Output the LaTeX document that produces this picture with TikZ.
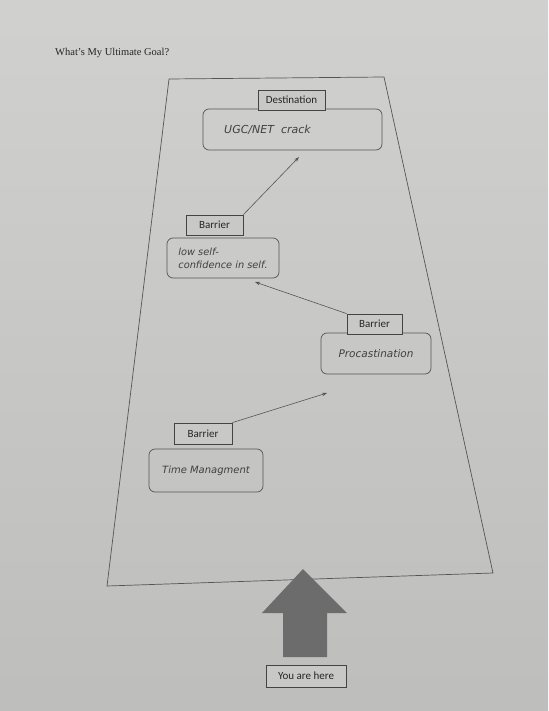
\documentclass[tikz,border=0pt]{standalone}
\usepackage{fontspec}
\setmainfont{Liberation Serif}
\newfontfamily\boxfont{Carlito}
\newfontfamily\handfont{DejaVu Sans}
\usetikzlibrary{arrows.meta}
\definecolor{paper}{RGB}{206,206,204}
\definecolor{ink}{RGB}{85,85,85}
\definecolor{bigarrow}{RGB}{108,108,108}
\begin{document}
\begin{tikzpicture}[x=1pt,y=-1pt,
  labelbox/.style={draw=ink!80!black,line width=0.8pt,fill=paper!97!black,inner sep=0pt,font=\boxfont\fontsize{11}{12}\selectfont,text=black!85},
  goalbox/.style={draw=ink,line width=0.7pt,rounded corners=6pt,inner sep=0pt,text=black!75,align=left},
  conn/.style={draw=ink,line width=0.6pt,-{Stealth[length=5pt,width=3.5pt]}}]
\useasboundingbox (0,0) rectangle (548,711);
\shade[top color=paper!95!white,bottom color=paper!92!black] (0,0) rectangle (548,711);
\node[anchor=west,inner sep=0pt,font=\fontsize{10.5}{12}\selectfont,text=black!85] (title) at (55,53) {What’s My Ultimate Goal?};
% trapezoid
\draw[ink,line width=0.7pt] (169,79) -- (384,77) -- (493,573) -- (107,586) -- cycle;
% destination
\node[goalbox,minimum width=179pt,minimum height=41pt,font=\handfont\itshape\fontsize{11}{12}\selectfont] (ugc) at (292.5,129.5) {\hspace*{-50pt}UGC/NET\ \ crack};
\node[labelbox,minimum width=67pt,minimum height=20pt] (dest) at (291.5,100) {Destination};
% barrier 1
\node[goalbox,minimum width=112pt,minimum height=40pt,font=\handfont\itshape\fontsize{9.8}{13}\selectfont] (lowself) at (223,258) {low self-\\confidence in self.};
\node[labelbox,minimum width=57pt,minimum height=20pt] (b1) at (214.5,225) {Barrier};
% barrier 2
\node[goalbox,minimum width=110pt,minimum height=41pt,font=\handfont\itshape\fontsize{10.5}{12}\selectfont] (proc) at (376,353.5) {Procastination};
\node[labelbox,minimum width=55pt,minimum height=20pt] (b2) at (374.5,324) {Barrier};
% barrier 3
\node[goalbox,minimum width=114pt,minimum height=43pt,font=\handfont\itshape\fontsize{10}{12}\selectfont] (time) at (206,470.5) {Time Managment};
\node[labelbox,minimum width=58pt,minimum height=21pt] (b3) at (203,433.5) {Barrier};
% connectors
\coordinate (t1) at (299,157);
\coordinate (t2) at (255,282);
\coordinate (t3) at (327,393);
\draw[conn] (b1.north east) -- (t1);
\draw[conn] (b2.north west) -- (t2);
\draw[conn] (b3.north east) -- (t3);
% you are here
\fill[bigarrow] (303,569) -- (347,613) -- (327,613) -- (327,657) -- (283,657) -- (283,613) -- (262,613) -- cycle;
\node[labelbox,minimum width=80pt,minimum height=22pt] (here) at (306,676) {You are here};
\end{tikzpicture}
\end{document}
